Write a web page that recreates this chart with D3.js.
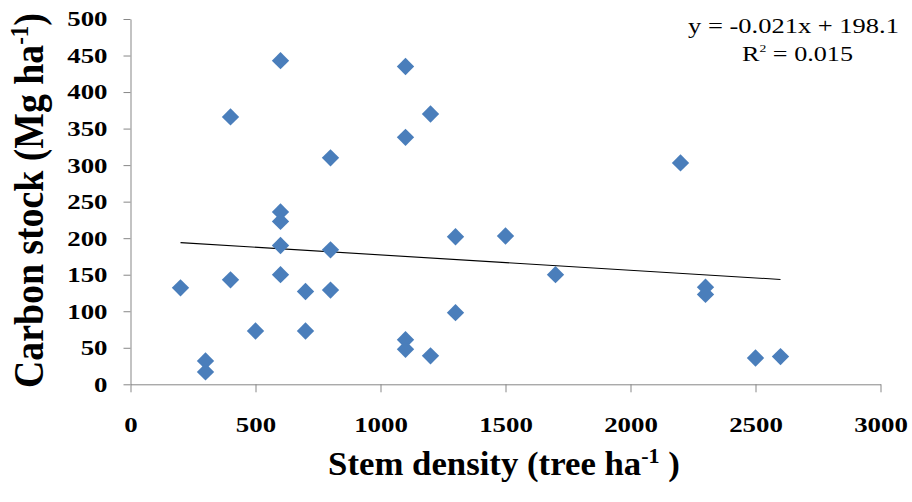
<!DOCTYPE html>
<html><head><meta charset="utf-8">
<script src="https://cdn.jsdelivr.net/npm/d3@7"></script>
<style>body{margin:0;background:#fff}</style>
</head><body><svg id="c" width="912" height="502"></svg>
<script>
// ---- data ----
const stemDensity = [200,300,300,400,400,500,600,600,600,600,600,700,700,800,800,800,1100,1100,1100,1100,1200,1200,1300,1300,1500,1700,2200,2300,2300,2500,2600];
const carbonStock = [132,32,17,143,366,73,443,236,223,190,150,127,73,310,184,129,435,338,61,48,370,39,202,98,203,150,303,133,123,36,38];
const xTicks = [0,500,1000,1500,2000,2500,3000];
const yTicks = [0,50,100,150,200,250,300,350,400,450,500];
const trendSlope = -0.021;
const trendIntercept = 198.1;
const equationLabel = "y = -0.021x + 198.1";
const r2Label = "0.015";

// ---- layout ----
const svg = d3.select("#c");
const x = d3.scaleLinear().domain([0,3000]).range([130.5,880.5]);
const y = d3.scaleLinear().domain([0,500]).range([384.3,19]);
const axisColor = "#878787";
const serif = "'Liberation Serif'";
const tickStretch = 1.28;

function bold(sel) {
  sel.style("font-family", serif).style("font-weight", "bold").attr("fill", "#000");
}

// x axis
const gx = svg.append("g").attr("transform", `translate(0,${y(0)})`)
  .call(d3.axisBottom(x).tickValues(xTicks).tickSizeInner(8).tickSizeOuter(0).tickFormat(d3.format("d")));
gx.select(".domain").attr("stroke", axisColor);
gx.selectAll(".tick line").attr("stroke", axisColor);
gx.selectAll(".tick text").attr("y", 48).attr("dy", 0).attr("font-size", 21)
  .attr("transform", `scale(${tickStretch},1)`).call(bold);

// y axis
const gy = svg.append("g").attr("transform", `translate(${x(0)},0)`)
  .call(d3.axisLeft(y).tickValues(yTicks).tickSizeInner(7).tickSizeOuter(0).tickFormat(d3.format("d")));
gy.select(".domain").attr("stroke", axisColor);
gy.selectAll(".tick line").attr("stroke", axisColor);
gy.selectAll(".tick text").attr("x", -23 / tickStretch).attr("dy", "0.33em").attr("font-size", 21)
  .attr("transform", `scale(${tickStretch},1)`).call(bold);

// trend line over data extent
const xExt = d3.extent(stemDensity);
const trend = xExt.map(v => [v, trendSlope * v + trendIntercept]);
svg.append("path")
  .attr("d", d3.line().x(d => x(d[0])).y(d => y(d[1]))(trend))
  .attr("stroke", "#000").attr("stroke-width", 1.1).attr("fill", "none");

// points (diamonds)
const diamond = d3.symbol().type(d3.symbolSquare).size(150);
svg.append("g").selectAll("path")
  .data(stemDensity.map((v, i) => [v, carbonStock[i]]))
  .join("path")
  .attr("d", diamond)
  .attr("transform", d => `translate(${x(d[0])},${y(d[1])}) rotate(45)`)
  .attr("fill", "#4a7ebb");

// x title
const xt = svg.append("text").attr("font-size", 33).attr("text-anchor", "middle").call(bold);
xt.append("tspan").text("Stem density (tree ha");
xt.append("tspan").attr("font-size", 21).attr("dy", -12).text("-1");
xt.append("tspan").attr("dy", 12).text(" )");
{
  const s = 352 / xt.node().getBBox().width;
  xt.attr("transform", `translate(504,475) scale(${s},1)`);
}

// y title
const yt = svg.append("text").attr("font-size", 36).attr("text-anchor", "middle").call(bold);
yt.append("tspan").text("Carbon stock (Mg ha");
yt.append("tspan").attr("font-size", 22).attr("dy", -13).text("-1");
yt.append("tspan").attr("dy", 13).text(")");
{
  const s = 375 / yt.node().getBBox().width;
  yt.attr("transform", `translate(43,200.5) rotate(-90) scale(${s},1.18)`);
}

// equation
const eq1 = svg.append("text").style("font-family", serif)
  .attr("font-size", 21).attr("text-anchor", "middle").attr("fill", "#000")
  .text(equationLabel);
{
  const s = 211 / eq1.node().getBBox().width;
  eq1.attr("transform", `translate(793.5,33) scale(${s},1)`);
}
const eq2 = svg.append("text").style("font-family", serif)
  .attr("font-size", 21).attr("text-anchor", "middle").attr("fill", "#000");
eq2.append("tspan").text("R");
eq2.append("tspan").attr("font-size", 11).attr("dy", -9).text("2");
eq2.append("tspan").attr("dy", 9).text(" = " + r2Label);
{
  const s = 111 / eq2.node().getBBox().width;
  eq2.attr("transform", `translate(797.5,61) scale(${s},1)`);
}
</script>
</body></html>
